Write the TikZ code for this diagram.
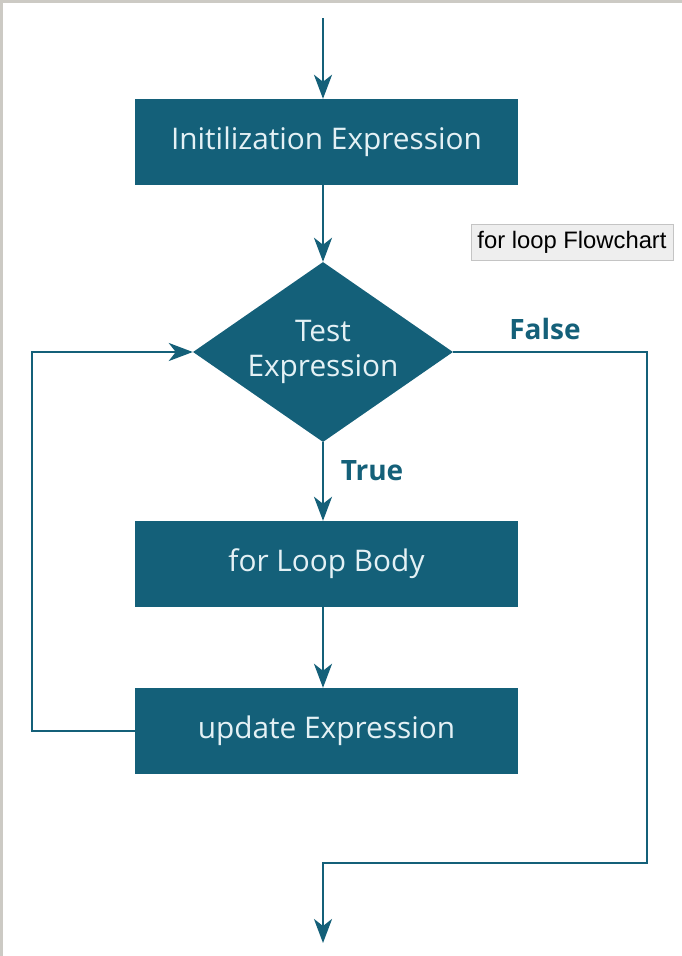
\documentclass[tikz,border=0pt]{standalone}
\usepackage{fontspec}
\setmainfont{Open Sans}
\newfontfamily\tipfont{Liberation Sans}
\usetikzlibrary{arrows.meta,shapes.geometric}
\definecolor{teal1}{RGB}{20,96,121}
\definecolor{boxtext}{RGB}{228,241,245}
\definecolor{frame}{RGB}{204,202,196}
\definecolor{tipfill}{RGB}{238,238,238}
\definecolor{tipline}{RGB}{196,196,196}
\tikzset{
  flowbox/.style={rectangle, fill=teal1, text=boxtext, minimum width=383pt, minimum height=86pt, inner sep=0pt, font=\fontsize{29.8}{35}\selectfont},
  decision/.style={diamond, fill=teal1, text=boxtext, aspect=1.44, inner sep=0pt, minimum width=260pt, minimum height=180pt, align=center, font=\fontsize{29.8}{35}\selectfont},
  conn/.style={draw=teal1, line width=2.6pt},
  arr/.style={conn, -{Stealth[length=24pt,width=18pt,inset=7pt]}},
  lbl/.style={text=teal1, font=\bfseries\fontsize{28}{32}\selectfont, inner sep=0pt},
  tipbox/.style={rectangle, fill=tipfill, draw=tipline, line width=0.8pt, minimum width=202pt, minimum height=36pt, inner sep=0pt, font=\tipfont\fontsize{23.8}{26}\selectfont}
}
\begin{document}
\begin{tikzpicture}[x=1pt,y=-1pt]
\useasboundingbox (0,0) rectangle (682,956);
\fill[white] (0,0) rectangle (682,956);
\fill[frame] (0,0) rectangle (682,3);
\fill[frame] (0,0) rectangle (3,956);

\node[flowbox] (init) at (326.5,142) {Initilization Expression};
\node[decision] (test) at (323,352) {Test\\Expression};
\node[flowbox] (body) at (326.5,564) {for Loop Body};
\node[flowbox] (update) at (326.5,731) {update Expression};

\node[tipbox] (tip) at (572,242) {for loop Flowchart};
\node[lbl] (false) at (545,329) {False};
\node[lbl] (true) at (372,471) {True};

\coordinate (start) at (323,18);
\coordinate (finish) at (323,943);
\coordinate (fcorner) at (647,863);
\coordinate (lcorner) at (32,731);

\draw[arr] (start) -- (start |- init.north);
\draw[arr] (init.south -| test.north) -- (test.north);
\draw[arr] (test.south) -- (test.south |- body.north);
\draw[arr] (body.south -| test.south) -- (test.south |- update.north);
\draw[arr] (update.west) -- (lcorner) |- (test.west);
\draw[arr] (test.east) -| (fcorner) -| (finish);
\end{tikzpicture}
\end{document}
